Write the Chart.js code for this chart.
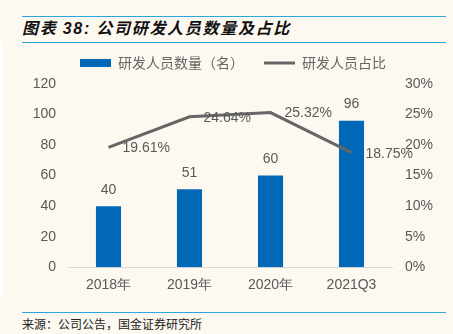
<!DOCTYPE html>
<html>
<head>
<meta charset="utf-8">
<script src="https://cdn.jsdelivr.net/npm/chart.js@4.4.1/dist/chart.umd.min.js"></script>
<style>
  html, body { margin: 0; padding: 0; }
  body { width: 453px; height: 334px; background: #FDF9F0; position: relative; overflow: hidden;
         font-family: "Noto Sans CJK SC", sans-serif; }
  .rule { position: absolute; left: 22px; width: 424px; height: 1px; background: #2AA5DF; }
  #title { position: absolute; left: 22px; top: 16px; font-size: 16px; font-weight: bold; font-style: italic;
           color: #111; letter-spacing: 1.7px; line-height: 22px; white-space: nowrap; }
  #title b { font-family: "Liberation Sans", Arial, sans-serif; }
  #source { position: absolute; left: 22px; top: 316px; font-size: 12px; color: #222; line-height: 15px; white-space: nowrap; }
  #edge { position: absolute; left: 0; top: 42px; width: 3px; height: 255px; background: #fff; }
  canvas { position: absolute; left: 18px; top: 36px; }
</style>
</head>
<body>
<div class="rule" style="top:16px"></div>
<div id="title">图表 <b>38:</b> 公司研发人员数量及占比</div>
<div class="rule" style="top:42px"></div>
<div id="edge"></div>
<canvas id="myChart" width="430" height="268"></canvas>
<div class="rule" style="top:312px"></div>
<div id="source">来源：公司公告，国金证券研究所</div>
<script>
const labels = ['2018年', '2019年', '2020年', '2021Q3'];
const staffCount = [40, 51, 60, 96];
const staffShare = [19.61, 24.64, 25.32, 18.75];
const leftTicks = [0, 20, 40, 60, 80, 100, 120];
const rightTicks = [0, 5, 10, 15, 20, 25, 30];

const tickFont = { family: '"Liberation Sans", Arial, sans-serif', size: 14 };
const gray = '#595959';

// extra room under the legend
const legendGap = {
  id: 'legendGap',
  afterInit(chart) {
    const fit = chart.legend.fit;
    chart.legend.fit = function () {
      fit.call(this);
      this.height += 4;
    };
  }
};

const valueLabels = {
  id: 'valueLabels',
  afterDatasetsDraw(chart) {
    const ctx = chart.ctx;
    ctx.save();
    ctx.font = '14px "Liberation Sans", Arial, sans-serif';
    ctx.fillStyle = gray;
    ctx.textBaseline = 'middle';
    chart.getDatasetMeta(0).data.forEach((bar, i) => {
      ctx.textAlign = 'center';
      ctx.fillText(staffCount[i], bar.x, bar.y - 16);
    });
    chart.getDatasetMeta(1).data.forEach((pt, i) => {
      ctx.textAlign = 'left';
      ctx.fillText(staffShare[i].toFixed(2) + '%', pt.x + 14, pt.y + 1);
    });
    ctx.restore();
  }
};

const data = {
  labels: labels,
  datasets: [{
    type: 'bar',
    label: '研发人员数量（名）',
    data: staffCount,
    backgroundColor: '#0068B7',
    borderWidth: 0,
    categoryPercentage: 1,
    barPercentage: 0.31,
    yAxisID: 'y',
    order: 2
  }, {
    type: 'line',
    label: '研发人员占比',
    data: staffShare,
    borderColor: '#666666',
    backgroundColor: '#666666',
    borderWidth: 3,
    pointRadius: 0,
    tension: 0,
    yAxisID: 'y1',
    order: 1
  }]
};

const config = {
  data: data,
  options: {
    responsive: false,
    animation: false,
    plugins: {
      tooltip: { enabled: false },
      legend: {
        position: 'top',
        labels: {
          color: '#666666',
          font: { family: '"Noto Sans CJK SC", sans-serif', size: 14 },
          usePointStyle: true,
          pointStyleWidth: 31,
          boxWidth: 31,
          boxHeight: 8,
          padding: 20,
          sort: (a, b) => a.datasetIndex - b.datasetIndex,
          generateLabels(chart) {
            const items = Chart.defaults.plugins.legend.labels.generateLabels(chart);
            items.forEach(item => {
              if (item.datasetIndex === 0) {
                item.pointStyle = 'rect';
                item.lineWidth = 0;
                item.fillStyle = '#0068B7';
              } else {
                item.pointStyle = 'line';
                item.lineWidth = 3;
                item.strokeStyle = '#666666';
              }
            });
            return items;
          }
        }
      }
    },
    scales: {
      x: {
        grid: { display: false, drawTicks: false },
        border: { display: true, color: '#D9D9D9', width: 1 },
        ticks: { color: gray, font: tickFont, padding: 10 }
      },
      y: {
        position: 'left',
        min: 0,
        max: 120,
        grid: { display: false, drawTicks: false },
        border: { display: false },
        afterBuildTicks(axis) { axis.ticks = leftTicks.map(v => ({ value: v })); },
        afterFit(axis) { axis.width = 50; },
        ticks: { color: gray, font: tickFont, padding: 12 }
      },
      y1: {
        position: 'right',
        min: 0,
        max: 30,
        grid: { display: false, drawTicks: false },
        border: { display: false },
        afterBuildTicks(axis) { axis.ticks = rightTicks.map(v => ({ value: v })); },
        afterFit(axis) { axis.width = 56; },
        ticks: { color: gray, font: tickFont, padding: 13, callback: v => v + '%' }
      }
    }
  },
  plugins: [legendGap, valueLabels]
};

const myChart = new Chart(document.getElementById('myChart'), config);
</script>
</body>
</html>
